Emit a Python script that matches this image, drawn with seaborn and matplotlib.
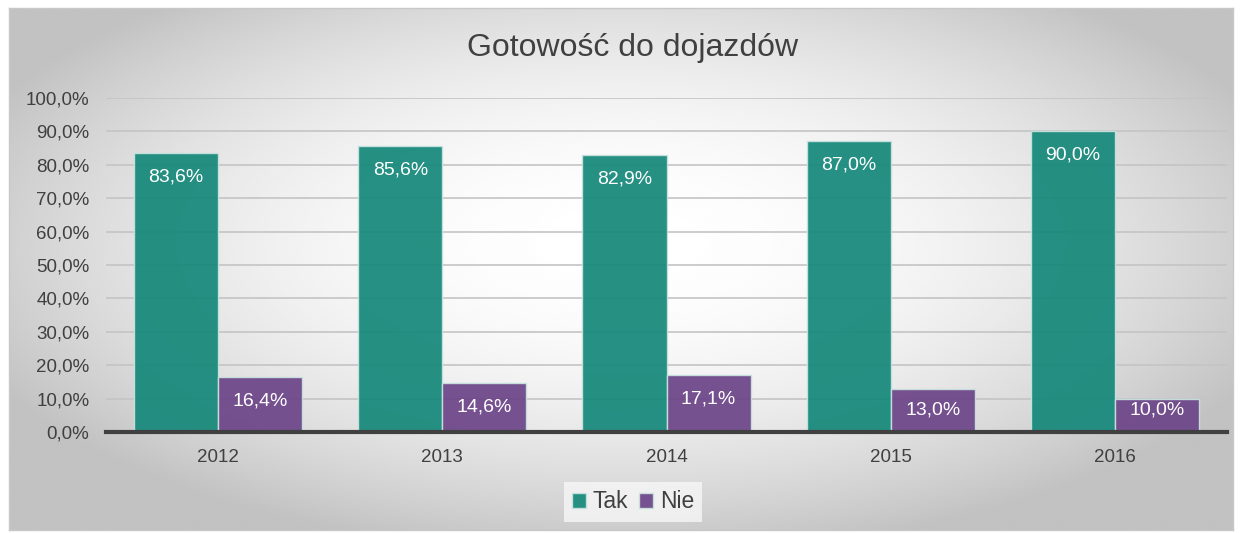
import numpy as np
import pandas as pd
import matplotlib
matplotlib.use('Agg')
import matplotlib.pyplot as plt
import seaborn as sns

# dane
lata = ['2012', '2013', '2014', '2015', '2016']
tak = [83.6, 85.6, 82.9, 87.0, 90.0]
nie = [16.4, 14.6, 17.1, 13.0, 10.0]
serie = ['Tak', 'Nie']
kolory = ['#15887a', '#6d4589']
yticks = list(range(0, 101, 10))

df = pd.DataFrame({
    'Rok': lata * 2,
    'Wartosc': tak + nie,
    'Seria': ['Tak'] * len(lata) + ['Nie'] * len(lata),
})

sns.set_theme(style='white')
plt.rcParams['font.family'] = ['Liberation Sans', 'DejaVu Sans']

W, H = 1243, 533
fig = plt.figure(figsize=(W / 100, H / 100), dpi=100)
fig.patch.set_facecolor('white')

# tlo z gradientem (radialnym)
bg = fig.add_axes([9 / W, 3 / H, 1224 / W, 522 / H])
yy, xx = np.mgrid[-1:1:300j, -1:1:600j]
r2 = (xx / 1.05) ** 2 + ((yy + 0.1) / 1.1) ** 2
grad = np.clip(1 - 0.2 * r2, 0.76, 1.0)
bg.imshow(grad, cmap='gray', vmin=0, vmax=1, aspect='auto', interpolation='bicubic')
bg.set_xticks([])
bg.set_yticks([])
for s in bg.spines.values():
    s.set_color('#c8c8c8')
    s.set_linewidth(1)

ax = fig.add_axes([106 / W, (H - 432) / H, (1227 - 106) / W, (432 - 98) / H])
ax.set_facecolor('none')

sns.barplot(data=df, x='Rok', y='Wartosc', hue='Seria', hue_order=serie,
            palette=kolory, saturation=1, width=0.75, alpha=0.93,
            edgecolor='#c9e3df', linewidth=1, ax=ax, zorder=3)

# etykiety wewnatrz slupkow (przy niskich slupkach przesuniete w dol)
for cont, vals in zip(ax.containers, [tak, nie]):
    for p, v in zip(cont.patches, vals):
        yc = max(p.get_height() - 7.2, 6.6)
        ax.text(p.get_x() + p.get_width() / 2, yc, f'{v:.1f}%'.replace('.', ','),
                ha='center', va='center', color='white', fontsize=14, zorder=6)

ax.set_ylim(0, 100)
ax.set_yticks(yticks)
ax.set_yticklabels([f'{t:.1f}%'.replace('.', ',') for t in yticks])
ax.set_xlim(-0.5, len(lata) - 0.5)
ax.yaxis.grid(True, color='#c4c4c4', linewidth=1.2, zorder=0)
ax.set_axisbelow(True)
ax.tick_params(axis='both', length=0, labelsize=13.5, colors='#404040')
ax.tick_params(axis='y', pad=12)
ax.tick_params(axis='x', pad=12)
ax.set_xlabel('')
ax.set_ylabel('')
for k in ['left', 'right', 'top']:
    ax.spines[k].set_visible(False)
ax.spines['bottom'].set_color('#404040')
ax.spines['bottom'].set_linewidth(3)
ax.spines['bottom'].set_zorder(5)

fig.text(633 / W, 1 - 48 / H, 'Gotowość do dojazdów', ha='center', va='center',
         fontsize=23, color='#404040')

handles, labels = ax.get_legend_handles_labels()
ax.legend(handles, labels, loc='center', bbox_to_anchor=(633 / W, 31 / H),
          bbox_transform=fig.transFigure, ncol=2, frameon=True,
          facecolor='#f7f7f7', edgecolor='none', fancybox=False,
          handlelength=0.6, handleheight=0.6, columnspacing=0.5,
          handletextpad=0.3, fontsize=16.5, labelcolor='#404040',
          borderpad=0.35, borderaxespad=0)

fig.savefig('out.png', dpi=100)
